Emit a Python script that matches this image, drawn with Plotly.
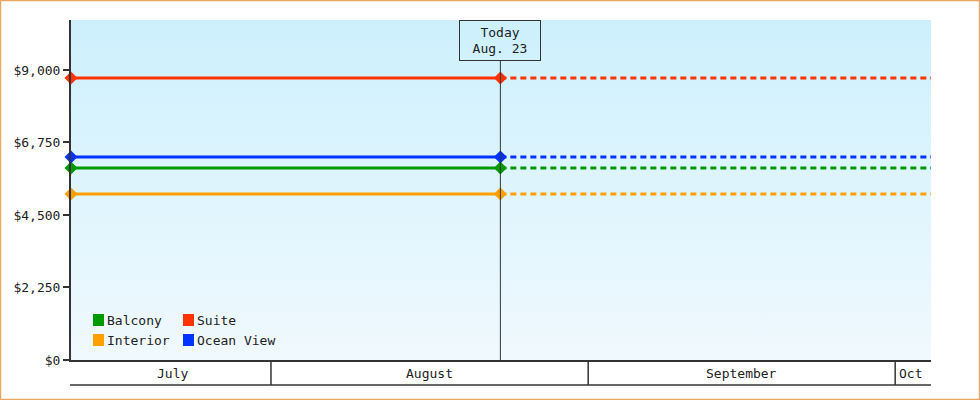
import plotly.graph_objects as go

# cabin price series (flat since start of window)
cabins = ["Balcony", "Suite", "Interior", "Ocean View"]
prices = [5960, 8750, 5150, 6300]
colors = ["#009a00", "#ff3300", "#ffa000", "#0033ff"]

start_date = "2024-07-12 11:00"
today = "2024-08-23 10:00"
end_date = "2024-10-04 12:00"

month_starts = ["2024-08-01", "2024-09-01", "2024-10-01"]
month_labels = ["July", "August", "September", "Oct"]
month_mids = ["2024-07-22 10:00", "2024-08-16 12:00", "2024-09-16 00:00", "2024-10-02 12:00"]

y_ticks = [0, 2250, 4500, 6750, 9000]
y_labels = ["$" + format(v, ",") for v in y_ticks]
y_max = 10550

FONT = "DejaVu Sans Mono"
W, H, ML, MR, MT, MB = 980, 400, 71, 49, 20, 40
PW, PH = W - ML - MR, H - MT - MB


def px_x(px):
    return (px - ML) / PW


def px_y(py):
    return (MT + PH - py) / PH


fig = go.Figure()

# gradient background
fig.add_trace(go.Scatter(
    x=[start_date, end_date, end_date, start_date, start_date],
    y=[0, 0, y_max, y_max, 0],
    fill="toself", mode="none", hoverinfo="skip", showlegend=False,
    fillgradient=dict(type="vertical", start=0, stop=y_max,
                      colorscale=[[0, "#f0f9fe"], [1, "#cdf0fd"]]),
))

for name, p, c in zip(cabins, prices, colors):
    # known history: solid
    fig.add_trace(go.Scatter(
        x=[start_date, today], y=[p, p], mode="lines+markers", name=name,
        line=dict(color=c, width=3), marker=dict(symbol="diamond", size=10, color=c),
        cliponaxis=False, showlegend=False,
    ))
    # projection: dashed
    fig.add_trace(go.Scatter(
        x=[today, end_date], y=[p, p], mode="lines", name=name,
        line=dict(color=c, width=3, dash="6px,4px"), showlegend=False,
    ))

shapes = []
annotations = []

# legend, two columns x two rows, drawn by hand so the swatch sits next to the text
for i, (name, c) in enumerate(zip(cabins, colors)):
    left = 93 + 90 * (i % 2)
    cy = 320 + 20 * (i // 2)
    shapes.append(dict(type="rect", xref="paper", yref="paper",
                       x0=px_x(left), x1=px_x(left + 11), y0=px_y(cy + 6), y1=px_y(cy - 6),
                       fillcolor=c, line=dict(width=0)))
    annotations.append(dict(x=px_x(left + 12), y=px_y(cy), xref="paper", yref="paper",
                            xanchor="left", yanchor="middle", text=name, showarrow=False,
                            font=dict(family=FONT, size=13, color="#222")))

# today marker line
shapes.append(dict(type="line", xref="x", yref="paper", x0=today, x1=today,
                   y0=0, y1=px_y(60), line=dict(color="#333", width=1)))
# month band
band_y = px_y(385)
shapes.append(dict(type="line", xref="paper", yref="paper", x0=px_x(70), x1=1,
                   y0=band_y, y1=band_y, line=dict(color="#333", width=1.5)))
for m in month_starts:
    shapes.append(dict(type="line", xref="x", yref="paper", x0=m, x1=m,
                       y0=0, y1=band_y, line=dict(color="#333", width=1.5)))
# outer frame
shapes.append(dict(type="rect", xref="paper", yref="paper",
                   x0=px_x(0.5), x1=px_x(W - 0.5), y0=px_y(H - 0.5), y1=px_y(0.5),
                   line=dict(color="#eaa860", width=1.5)))

for mx, lab in zip(month_mids, month_labels):
    annotations.append(dict(x=mx, y=px_y(373), xref="x", yref="paper", text=lab,
                            yanchor="middle", showarrow=False,
                            font=dict(family=FONT, size=13, color="#222")))
annotations.append(dict(x=today, y=1, xref="x", yref="paper", yanchor="top",
                        text="Today<br>Aug. 23", showarrow=False, width=74, height=33,
                        bordercolor="#333", borderwidth=1, borderpad=3,
                        bgcolor="rgba(0,0,0,0)",
                        font=dict(family=FONT, size=13, color="#222")))

fig.update_layout(
    width=W, height=H,
    margin=dict(l=ML, r=MR, t=MT, b=MB),
    paper_bgcolor="white", plot_bgcolor="white",
    font=dict(family=FONT, size=13, color="#222"),
    showlegend=False,
    xaxis=dict(type="date", range=[start_date, end_date], showticklabels=False,
               ticks="", showgrid=False, zeroline=False, showline=True,
               linecolor="#333", linewidth=1.5),
    yaxis=dict(range=[0, y_max], tickvals=y_ticks, ticktext=y_labels,
               showgrid=False, zeroline=False, showline=True, linecolor="#333",
               linewidth=2, ticks="outside", ticklen=6, tickwidth=2, tickcolor="#333"),
    shapes=shapes,
    annotations=annotations,
)

fig.write_html("out.html", config={"displayModeBar": False},
               post_script="document.body.style.margin='0px';")
